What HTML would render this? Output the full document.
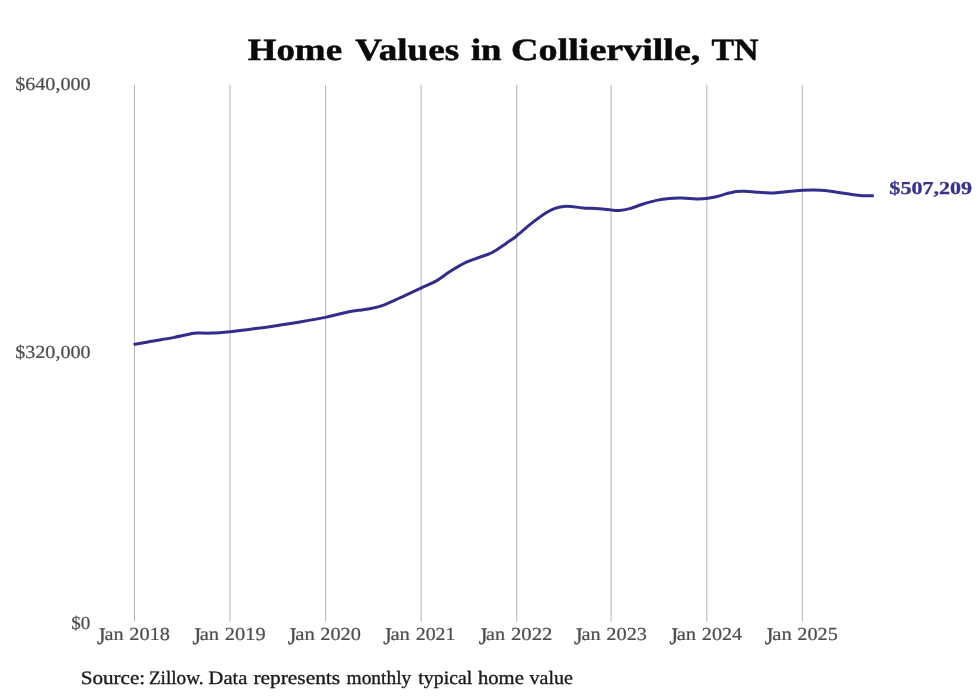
<!DOCTYPE html>
<html><head><meta charset="utf-8"><title>Home Values in Collierville, TN</title>
<style>
html,body{margin:0;padding:0;background:#fff;}
body{width:980px;height:699px;overflow:hidden;font-family:"Liberation Serif",serif;}
svg{display:block;will-change:transform;text-rendering:geometricPrecision;font-family:"Liberation Serif",serif;}
.g line{stroke:#b2b2b2;stroke-width:1;}
.t{font-size:18.4px;fill:#4e4e4e;stroke:#4e4e4e;stroke-width:.22px;}
.src{font-size:19.0px;fill:#1a1a1a;stroke:#1a1a1a;stroke-width:.35px;}
.ttl{font-size:31.0px;font-weight:bold;fill:#0a0a0a;stroke:#0a0a0a;stroke-width:.5px;}
.val{font-size:18.2px;font-weight:bold;fill:#38338c;stroke:#38338c;stroke-width:.3px;}
</style></head><body>
<svg width="980" height="699" viewBox="0 0 980 699">
<rect width="980" height="699" fill="#ffffff"/>
<g class="g"><line x1="134.45" y1="84.7" x2="134.45" y2="621.5" /><line x1="230.00" y1="84.7" x2="230.00" y2="621.5" /><line x1="325.65" y1="84.7" x2="325.65" y2="621.5" /><line x1="421.15" y1="84.7" x2="421.15" y2="621.5" /><line x1="516.75" y1="84.7" x2="516.75" y2="621.5" /><line x1="611.10" y1="84.7" x2="611.10" y2="621.5" /><line x1="706.80" y1="84.7" x2="706.80" y2="621.5" /><line x1="802.30" y1="84.7" x2="802.30" y2="621.5" /></g>
<path id="curve" d="M133.6,344.5 C136.3,344.0 143.4,342.8 150.0,341.6 C156.6,340.4 166.3,338.9 173.0,337.6 C179.7,336.3 186.0,334.8 190.0,334.0 C194.0,333.2 193.5,333.1 197.0,333.0 C200.5,332.9 205.5,333.3 211.0,333.1 C216.5,332.9 223.7,332.3 230.0,331.7 C236.3,331.1 242.7,330.2 249.0,329.4 C255.3,328.6 262.2,327.8 268.0,327.0 C273.8,326.2 278.7,325.4 284.0,324.6 C289.3,323.8 293.1,323.2 300.0,322.0 C306.9,320.8 317.5,319.0 325.3,317.4 C333.1,315.8 339.7,313.6 346.8,312.2 C353.9,310.8 362.3,310.1 368.2,309.0 C374.1,307.9 376.8,307.6 382.2,305.7 C387.6,303.8 393.9,300.6 400.4,297.7 C406.8,294.8 414.9,290.9 420.9,288.1 C426.9,285.3 431.5,283.7 436.4,280.9 C441.3,278.1 445.4,274.4 450.4,271.3 C455.4,268.2 461.6,264.5 466.4,262.2 C471.2,259.9 475.0,259.0 479.3,257.4 C483.6,255.8 487.7,254.8 492.2,252.5 C496.7,250.2 502.1,246.1 506.1,243.4 C510.1,240.7 512.1,239.5 516.3,236.2 C520.5,232.9 526.5,227.2 531.4,223.4 C536.2,219.6 541.5,215.7 545.4,213.2 C549.3,210.7 552.0,209.5 555.0,208.4 C558.0,207.3 560.9,206.8 563.6,206.5 C566.3,206.2 567.9,206.3 571.1,206.5 C574.3,206.7 578.2,207.5 582.9,207.9 C587.5,208.3 594.3,208.3 599.0,208.7 C603.7,209.0 608.0,209.7 611.3,210.0 C614.6,210.3 615.9,210.6 619.0,210.4 C622.1,210.2 625.8,209.6 629.7,208.6 C633.6,207.6 638.0,205.7 642.5,204.3 C647.0,202.9 651.9,201.4 656.4,200.4 C660.9,199.4 665.0,198.8 669.3,198.4 C673.6,198.0 677.7,198.0 682.2,198.1 C686.7,198.2 692.1,198.9 696.1,199.0 C700.1,199.1 703.1,199.0 706.4,198.6 C709.7,198.2 712.7,197.6 716.1,196.8 C719.5,196.0 723.4,194.5 726.8,193.6 C730.2,192.7 733.4,191.8 736.4,191.4 C739.4,191.0 741.6,191.1 745.0,191.2 C748.4,191.3 752.7,191.9 756.8,192.2 C760.9,192.5 765.6,192.9 769.7,192.9 C773.8,192.9 777.6,192.5 781.5,192.2 C785.4,191.9 789.7,191.4 793.2,191.1 C796.7,190.8 799.2,190.5 802.7,190.3 C806.2,190.1 810.2,189.9 814.3,190.0 C818.4,190.1 822.9,190.3 827.2,190.8 C831.5,191.2 835.9,192.1 840.0,192.7 C844.1,193.3 848.0,194.1 851.8,194.6 C855.5,195.1 858.8,195.5 862.5,195.7 C866.2,195.9 871.9,195.7 873.8,195.7" fill="none" stroke="#322d8a" stroke-width="3.0" stroke-linecap="butt" stroke-linejoin="round"/>
<text id="t1" class="ttl" x="247.66" y="59.9" textLength="94.40" lengthAdjust="spacingAndGlyphs">Home</text>
<text id="t2" class="ttl" x="355.30" y="59.9" textLength="103.78" lengthAdjust="spacingAndGlyphs">Values</text>
<text id="t3" class="ttl" x="470.91" y="59.9" textLength="30.61" lengthAdjust="spacingAndGlyphs">in</text>
<text id="t4" class="ttl" x="511.14" y="59.9" textLength="189.24" lengthAdjust="spacingAndGlyphs">Collierville,</text>
<text id="t5" class="ttl" x="711.42" y="59.9" textLength="47.19" lengthAdjust="spacingAndGlyphs">TN</text>
<text id="y1" class="t" x="15.16" y="90.4" textLength="75.43" lengthAdjust="spacingAndGlyphs">$640,000</text>
<text id="y2" class="t" x="15.16" y="358.4" textLength="75.43" lengthAdjust="spacingAndGlyphs">$320,000</text>
<text id="y3" class="t" x="71.28" y="628.6" textLength="19.08" lengthAdjust="spacingAndGlyphs">$0</text>
<text id="s1" class="src" x="80.67" y="683.5" textLength="64.47" lengthAdjust="spacingAndGlyphs">Source:</text>
<text id="s2" class="src" x="148.91" y="683.5" textLength="54.66" lengthAdjust="spacingAndGlyphs">Zillow.</text>
<text id="s3" class="src" x="208.57" y="683.5" textLength="38.75" lengthAdjust="spacingAndGlyphs">Data</text>
<text id="s4" class="src" x="253.43" y="683.5" textLength="86.69" lengthAdjust="spacingAndGlyphs">represents</text>
<text id="s5" class="src" x="346.56" y="683.5" textLength="64.69" lengthAdjust="spacingAndGlyphs">monthly</text>
<text id="s6" class="src" x="418.38" y="683.5" textLength="53.86" lengthAdjust="spacingAndGlyphs">typical</text>
<text id="s7" class="src" x="477.97" y="683.5" textLength="45.87" lengthAdjust="spacingAndGlyphs">home</text>
<text id="s8" class="src" x="529.60" y="683.5" textLength="43.22" lengthAdjust="spacingAndGlyphs">value</text>
<text id="val" class="val" x="889.39" y="194.2" textLength="82.79" lengthAdjust="spacingAndGlyphs">$507,209</text>
<text id="xj0" class="t" transform="translate(0,628.2) scale(1,1.3) translate(0,-628.2)" x="97.03" y="640.4" textLength="8.53" lengthAdjust="spacingAndGlyphs">J</text>
<text id="xa0" class="t" x="104.42" y="640.4" textLength="19.09" lengthAdjust="spacingAndGlyphs">an</text>
<text id="xb0" class="t" x="129.37" y="640.4" textLength="40.55" lengthAdjust="spacingAndGlyphs">2018</text>
<text id="xj1" class="t" transform="translate(0,628.2) scale(1,1.3) translate(0,-628.2)" x="192.57" y="640.4" textLength="8.60" lengthAdjust="spacingAndGlyphs">J</text>
<text id="xa1" class="t" x="199.73" y="640.4" textLength="19.42" lengthAdjust="spacingAndGlyphs">an</text>
<text id="xb1" class="t" x="224.89" y="640.4" textLength="40.73" lengthAdjust="spacingAndGlyphs">2019</text>
<text id="xj2" class="t" transform="translate(0,628.2) scale(1,1.3) translate(0,-628.2)" x="287.81" y="640.4" textLength="8.60" lengthAdjust="spacingAndGlyphs">J</text>
<text id="xa2" class="t" x="295.27" y="640.4" textLength="19.55" lengthAdjust="spacingAndGlyphs">an</text>
<text id="xb2" class="t" x="320.31" y="640.4" textLength="40.58" lengthAdjust="spacingAndGlyphs">2020</text>
<text id="xj3" class="t" transform="translate(0,628.2) scale(1,1.3) translate(0,-628.2)" x="383.24" y="640.4" textLength="8.52" lengthAdjust="spacingAndGlyphs">J</text>
<text id="xa3" class="t" x="390.44" y="640.4" textLength="19.53" lengthAdjust="spacingAndGlyphs">an</text>
<text id="xb3" class="t" x="415.73" y="640.4" textLength="39.68" lengthAdjust="spacingAndGlyphs">2021</text>
<text id="xj4" class="t" transform="translate(0,628.2) scale(1,1.3) translate(0,-628.2)" x="478.67" y="640.4" textLength="8.74" lengthAdjust="spacingAndGlyphs">J</text>
<text id="xa4" class="t" x="486.08" y="640.4" textLength="19.03" lengthAdjust="spacingAndGlyphs">an</text>
<text id="xb4" class="t" x="511.02" y="640.4" textLength="41.35" lengthAdjust="spacingAndGlyphs">2022</text>
<text id="xj5" class="t" transform="translate(0,628.2) scale(1,1.3) translate(0,-628.2)" x="574.03" y="640.4" textLength="8.53" lengthAdjust="spacingAndGlyphs">J</text>
<text id="xa5" class="t" x="581.42" y="640.4" textLength="19.09" lengthAdjust="spacingAndGlyphs">an</text>
<text id="xb5" class="t" x="606.37" y="640.4" textLength="40.56" lengthAdjust="spacingAndGlyphs">2023</text>
<text id="xj6" class="t" transform="translate(0,628.2) scale(1,1.3) translate(0,-628.2)" x="669.57" y="640.4" textLength="8.60" lengthAdjust="spacingAndGlyphs">J</text>
<text id="xa6" class="t" x="676.73" y="640.4" textLength="19.42" lengthAdjust="spacingAndGlyphs">an</text>
<text id="xb6" class="t" x="701.88" y="640.4" textLength="40.12" lengthAdjust="spacingAndGlyphs">2024</text>
<text id="xj7" class="t" transform="translate(0,628.2) scale(1,1.3) translate(0,-628.2)" x="764.81" y="640.4" textLength="8.60" lengthAdjust="spacingAndGlyphs">J</text>
<text id="xa7" class="t" x="772.27" y="640.4" textLength="19.55" lengthAdjust="spacingAndGlyphs">an</text>
<text id="xb7" class="t" x="797.33" y="640.4" textLength="40.46" lengthAdjust="spacingAndGlyphs">2025</text>
</svg>
</body></html>
